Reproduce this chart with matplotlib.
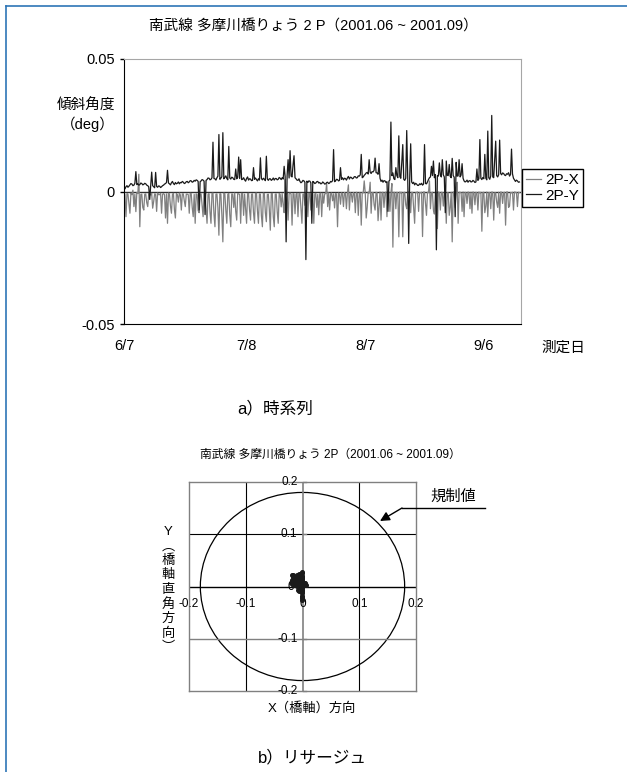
import numpy as np
import matplotlib
matplotlib.use("Agg")
import matplotlib.pyplot as plt
from matplotlib.patches import Circle
from matplotlib.lines import Line2D

plt.rcParams['font.family'] = ['Liberation Sans', 'Noto Sans CJK JP', 'DejaVu Sans']

# 2P-X (灰色), 単位 0.001 deg, 6/7 から 0.25日ごと
x_2p = [-0.5, -1.2, -9.5, -0.8, -1.0, -4.5, -8.2, -0.6, -1.2, 0.5, -5.7, -1.0, -7.6, -0.4, -0.8, 6.5, -13.3, -1.1, -1.0, -6.0,
        -7.0, -1.0, -0.9, -4.2, -5.7, -0.8, -1.1, -1.3, -0.7, -6.3, -3.8, -0.9, -1.0, -7.5, -0.6, -1.2, -1.2, -0.7, -8.2, -1.0,
        -0.8, -1.2, -10.0, -0.9, -12.0, -0.6, -1.0, -5.5, -8.2, -1.1, -0.7, -6.8, -10.0, -0.8, -1.1, -4.0, -0.6, -1.3, -7.0, -0.9,
        -0.9, -3.5, -5.7, -1.0, -1.0, -1.2, -8.2, -0.7, -0.8, -6.0, -9.5, -1.1, -12.0, -0.9, -1.2, -7.2, -8.0, -1.0, -0.9, -5.0,
        -9.5, -0.8, -1.0, -6.5, -12.0, -1.1, -0.8, -7.8, -12.0, -0.7, -0.6, -8.5, -13.3, -1.0, -0.9, -6.2, -16.5, -0.8, -1.0, -9.0,
        -19.0, -0.6, -0.8, -7.0, -12.0, -1.0, -0.7, -8.8, -13.3, -0.9, -1.0, -6.0, -0.6, -7.4, -10.8, -0.8, -0.9, -1.1, -12.0, -0.7,
        -0.8, -9.0, -1.0, -6.5, -12.0, -0.8, -0.7, -7.0, -10.8, -1.0, -0.9, -8.0, -12.0, -0.7, -0.6, -7.4, -12.0, -0.9, -1.0, -9.2,
        -13.3, -0.6, -0.8, -8.0, -11.4, -1.1, -1.0, -6.8, -14.6, -0.8, -0.7, -9.5, -13.3, -1.0, -0.9, -7.6, -12.0, -0.7, -1.1, -5.8,
        -0.8, -5.0, -8.0, 4.5, -1.0, -0.6, -10.8, -0.9, -0.6, -1.0, -12.7, -0.8, -0.9, -8.4, -1.0, -0.7, -9.5, -0.8, -0.7, -6.6,
        -12.0, -1.0, -0.9, -5.2, -0.6, -1.1, -9.5, -0.7, -1.0, -7.0, -0.8, -1.2, -12.0, -0.9, -0.7, -6.0, -1.1, -8.8, -0.9, -0.6,
        -9.5, -0.7, -4.4, -0.9, -0.8, 3.0, -5.7, -0.5, -7.0, -0.8, -0.6, -3.5, -0.9, -6.2, -0.7, -1.0, -13.3, -0.6, -1.0, -4.8,
        -0.5, -0.9, -5.7, -0.4, -0.8, -6.5, -0.6, 2.5, -7.0, -0.5, -0.9, -4.0, -0.4, -0.8, -8.0, -0.3, -0.7, -9.0, -0.5, -0.6,
        -12.7, -0.4, -0.5, 4.0, -0.3, -10.0, -6.0, -0.2, -0.6, 3.5, -8.2, -0.4, -0.4, -5.0, -7.0, -0.3, -0.5, -11.0, -5.5, -0.2,
        -10.8, -0.4, -0.3, -6.0, -0.5, -0.2, -9.5, -0.4, -0.2, -7.5, -0.6, 3.0, -21.0, -0.3, -0.4, -6.5, -0.3, -0.5, -17.1, -0.2,
        -0.5, -0.3, -17.1, -0.4, -0.3, -5.0, -6.5, -0.2, -0.2, -0.4, -8.0, -0.3, -0.4, -6.0, -12.0, -0.5, -0.3, -0.2, -7.5, -0.4,
        -0.5, -0.3, -17.0, -0.2, -0.2, -4.5, -9.0, -0.3, -0.4, 4.0, -6.5, -0.5, -0.3, -7.0, -8.5, -0.2, -0.5, -14.0, -0.2, -0.4,
        -7.0, -0.3, -0.4, -5.5, -0.3, -0.2, -12.0, -0.4, -0.5, -9.0, -6.0, -0.3, -19.0, -0.2, -0.2, -6.0, -0.4, 3.5, -12.0, -0.3,
        -0.3, -0.5, -7.5, -0.2, -9.5, -0.3, -0.5, -4.5, -0.2, -0.4, -6.5, -0.3, -8.2, -0.2, -0.4, -5.0, -0.3, -0.5, -7.0, -0.2,
        -0.5, -0.3, -15.0, -0.4, -0.3, -8.0, -5.5, -0.2, -9.5, -0.4, -0.4, -6.5, -0.2, -0.3, -10.8, -0.5, -0.5, -4.0, -6.0, -0.3,
        -8.2, -0.2, -0.3, -4.5, -0.4, -0.3, -12.7, -0.2, -0.2, -6.0, -5.5, -0.4, -0.5, -0.3, -7.0, -0.2, -0.3, -0.4, -5.7, -0.3,
        -0.4]

# 2P-Y (黒), 単位 0.001 deg
y_2p = [1.3, 1.0, 1.8, 2.2, 1.6, 2.0, 2.5, 3.0, 2.8, 2.2, 2.4, 3.1, 7.5, 2.6, 2.9, 2.4, 2.6, 3.2, 3.0, 2.5,
        2.7, 3.1, 2.9, 2.4, 2.2, 1.8, -3.0, 2.0, 7.3, 2.2, 1.8, 1.4, 7.2, 1.9, 1.6, 2.1, 2.0, 1.5, 1.8, 2.2,
        2.4, 2.8, 3.0, 3.4, 8.0, 3.2, 2.9, 2.5, 3.3, 3.8, 3.0, 2.6, 3.4, 2.9, 3.1, 3.6, 2.9, 3.4, 3.3, 3.8,
        3.5, 3.0, 3.2, 3.7, 3.8, 3.3, 3.6, 4.1, 4.0, 3.5, 3.7, 4.2, 3.9, 4.4, 4.2, 3.8, -7.0, 3.7, 4.0, 4.5,
        4.3, 3.9, -8.7, 4.2, 4.5, 5.1, 5.0, 4.4, 4.6, 5.2, 18.6, 4.9, 4.8, 4.3, 5.2, 5.8, 21.5, 4.6, 5.0, 5.6,
        22.2, 4.8, 5.3, 5.9, 4.9, 4.4, 17.0, 5.1, 4.7, 5.4, 5.2, 4.6, 4.5, 8.5, 4.8, 5.3, 13.0, 4.9, 12.0, 4.5,
        4.6, 5.2, 4.4, 3.9, 4.9, 5.5, 4.3, 4.8, 4.7, 4.1, 4.2, 9.0, 4.6, 5.1, 4.5, 4.0, 4.8, 4.3, 12.7, 4.9,
        4.4, 5.0, 4.6, 4.1, 13.3, 4.7, 4.2, 4.8, 4.8, 4.2, 4.5, 5.1, 4.3, 4.9, 4.9, 4.4, 4.6, 5.3, 5.0, 4.5,
        5.2, 4.7, 9.5, 5.6, -19.0, 6.0, 12.0, 5.1, 15.4, 5.8, 5.5, 10.0, 13.5, 5.2, 4.8, 4.3, 4.2, 4.8, 3.8, 3.3,
        3.6, 4.2, 4.0, 3.5, -25.7, 3.9, 3.4, 4.0, 3.9, 3.3, -12.0, 3.8, 3.5, 3.0, 3.2, 3.7, 3.8, 3.2, 3.4, 2.9,
        3.0, 3.6, 3.3, 2.8, 2.9, 3.4, 3.5, 3.0, 3.2, 3.8, 3.6, 4.1, 15.8, 3.7, 4.0, 4.6, 4.5, 4.0, 4.2, 9.0,
        4.6, 5.2, 4.4, 5.0, 4.9, 4.3, 5.1, 5.7, 4.7, 5.4, 5.3, 4.8, 5.0, 5.6, 5.6, 5.1, 5.2, 5.9, 5.8, 6.3,
        14.0, 5.2, 5.5, 6.1, 6.5, 7.0, 7.2, 6.6, 12.0, 7.3, 6.8, 7.5, 7.4, 8.0, 12.6, 7.1, 7.0, 6.5, 10.5, 5.0,
        3.8, 4.3, 3.5, 4.1, 4.0, 3.4, 3.7, -7.5, 3.9, 4.4, 26.2, 6.0, 7.0, 4.8, 4.5, 9.0, 6.0, 5.2, 21.0, 5.6,
        5.0, 11.0, 17.7, 4.6, 4.2, 5.0, 23.0, 5.5, -19.6, 4.8, 18.0, 3.6, 3.0, 3.5, 2.5, 3.1, 2.8, 2.3, 2.3, 2.9,
        2.6, 3.1, 2.4, 2.8, 17.7, 3.0, 2.9, 3.6, 4.5, 5.2, 5.5, 9.5, 6.0, 11.5, 5.2, 6.4, -22.0, 6.0, 5.8, 10.8,
        6.2, 5.5, 12.0, 6.3, 5.5, -8.0, 11.5, 6.1, 6.0, 10.2, 5.7, 5.2, 12.5, 6.0, 5.4, -9.5, 11.0, 5.8, 5.9, 12.0,
        5.5, 6.2, 10.5, 5.0, 4.0, 3.6, 3.8, 4.3, 3.5, 4.0, 4.1, 3.6, 3.7, 4.2, 3.9, 3.4, 3.6, 8.5, 4.2, 4.8,
        19.6, 5.0, 4.5, 5.3, 4.8, 14.0, 5.0, 4.4, 22.8, 5.2, 4.6, 5.9, 28.7, 5.5, 5.2, 12.0, 19.0, 6.0, 5.5, 6.3,
        19.4, 6.8, 6.3, 7.0, 6.8, 6.2, 6.0, 6.7, 6.5, 7.1, 5.8, 6.4, 16.0, 6.6, 5.0, 4.4, 3.8, 4.3, 4.0, 3.5,
        3.6]

date_ticks = [0, 31, 61, 91]
date_labels = ['6/7', '7/8', '8/7', '9/6']
liss_ticks = [-0.2, -0.1, 0, 0.1, 0.2]
limit_r = 0.18   # 規制値

days = np.arange(len(y_2p)) * 0.25
x_deg = np.array(x_2p) / 1000
y_deg = np.array(y_2p) / 1000

W, H = 627, 772
def fx(x):
    return x / W
def fy(y):
    return 1 - y / H

fig = plt.figure(figsize=(W / 100, H / 100), dpi=100)

# ---- a) 時系列 ----
ax1 = fig.add_axes([fx(124), fy(324), 397 / W, 265 / H])
ax1.plot(days, x_deg, color='#808080', lw=0.9, label='2P-X')
ax1.plot(days, y_deg, color='#1a1a1a', lw=0.9, label='2P-Y')
ax1.axhline(0, color='#333333', lw=1, zorder=1.5)
ax1.set_xlim(0, 100.4)
ax1.set_ylim(-0.05, 0.05)
ax1.set_yticks([-0.05, 0, 0.05], ['-0.05', '0', '0.05'])
ax1.set_xticks(date_ticks, date_labels)
ax1.tick_params(axis='x', length=0, pad=11, labelsize=10.5)
ax1.tick_params(axis='y', length=3, width=1, direction='out', pad=3.5, labelsize=10.5)
for s in ['left', 'bottom']:
    ax1.spines[s].set_color('black')
for s in ['top', 'right']:
    ax1.spines[s].set_color('#a6a6a6')
leg = ax1.legend(loc='center left', bbox_to_anchor=(fx(522), fy(188)),
                 bbox_transform=fig.transFigure, fancybox=False, edgecolor='black',
                 framealpha=1, handlelength=1.0, handletextpad=0.3, borderpad=0.25,
                 labelspacing=0.1, borderaxespad=0, fontsize=11)
leg.get_frame().set_linewidth(1)

fig.text(fx(313), fy(27), '南武線 多摩川橋りょう 2 P（2001.06 ~ 2001.09）',
         ha='center', va='center', fontsize=10.5)
fig.text(fx(115), fy(115), '傾斜角度\n（deg）', ha='right', va='center',
         ma='right', fontsize=10.5, linespacing=1.3)
fig.text(fx(563), fy(348), '測定日', ha='center', va='center', fontsize=10.5)
fig.text(fx(275), fy(408), 'a）時系列', ha='center', va='center', fontsize=12)

# ---- b) リサージュ ----
ax2 = fig.add_axes([fx(189), fy(691), 227 / W, 209 / H])
ax2.set_xlim(-0.2, 0.2)
ax2.set_ylim(-0.2, 0.2)
ax2.set_xticks([])
ax2.set_yticks([])
for s in ax2.spines.values():
    s.set_color('#808080')
    s.set_linewidth(1)
ax2.axvline(-0.1, color='black', lw=0.8)
ax2.axvline(0.1, color='black', lw=0.8)
ax2.axhline(0.1, color='black', lw=0.8)
ax2.axhline(-0.1, color='#808080', lw=1)
ax2.axvline(0, color='#808080', lw=1.2)
ax2.axhline(0, color='black', lw=1)
for v in liss_ticks:
    if v != 0:
        ax2.plot([0, 0.007], [v, v], color='#808080', lw=1, clip_on=False)
        ax2.text(-0.009, v, f'{v:g}', ha='right', va='center', fontsize=8.5)
    ax2.text(v, -0.033, f'{v:g}', ha='center', va='center', fontsize=8.5)
ax2.text(-0.014, 0, '0', ha='right', va='center', fontsize=8.5)

ax2.add_patch(Circle((0, 0), limit_r, fill=False, edgecolor='black', lw=0.9))
ax2.plot(x_deg, y_deg, 'o', ms=2.6, color='#1a1a1a', zorder=5)

fig.text(fx(330), fy(455), '南武線 多摩川橋りょう 2P（2001.06 ~ 2001.09）',
         ha='center', va='center', fontsize=8.5)
fig.text(fx(168), fy(590), 'Y\n︵\n橋\n軸\n直\n角\n方\n向\n︶', ha='center',
         va='center', fontsize=9.5, linespacing=1.25)
fig.text(fx(312), fy(708), 'X（橋軸）方向', ha='center', va='center', fontsize=9.5)

fig.text(fx(453), fy(497), '規制値', ha='center', va='center', fontsize=11)
fig.add_artist(Line2D([fx(485), fx(402)], [fy(508), fy(508)], color='black', lw=1))
ax2.annotate('', xy=(fx(380), fy(521)), xycoords='figure fraction',
             xytext=(fx(402), fy(508)), textcoords='figure fraction',
             arrowprops=dict(arrowstyle='-|>', color='black', lw=1,
                             mutation_scale=14, shrinkA=0, shrinkB=0),
             annotation_clip=False)
fig.text(fx(312), fy(757), 'b）リサージュ', ha='center', va='center', fontsize=12)

# 外枠 (左と上)
fig.add_artist(Line2D([fx(5.5), fx(5.5)], [0, fy(5.5)], color='#2e75b6', lw=1.2))
fig.add_artist(Line2D([fx(5.5), 1], [fy(5.5), fy(5.5)], color='#2e75b6', lw=1.2))

fig.savefig('out.png', dpi=100)
